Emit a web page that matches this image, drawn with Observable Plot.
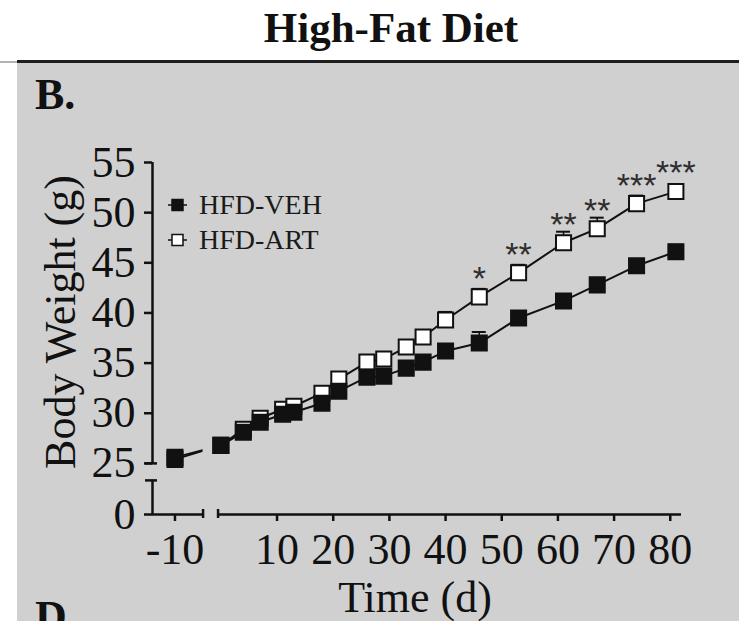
<!DOCTYPE html>
<html>
<head>
<meta charset="utf-8">
<script src="https://cdn.jsdelivr.net/npm/d3@7"></script>
<script src="https://cdn.jsdelivr.net/npm/@observablehq/plot@0.6"></script>
<style>
  html, body { margin: 0; padding: 0; width: 739px; height: 621px; overflow: hidden; background: #fff; }
  body { position: relative; font-family: "Liberation Serif", "Times New Roman", serif; color: #111; }
  .t { position: absolute; line-height: 1; white-space: nowrap; }
  #title { left: 0; width: 782px; top: 6px; text-align: center; font-weight: bold; font-size: 43px; }
  #rule-left { position: absolute; left: 0; width: 17px; top: 61px; height: 1.5px; background: #b4b4b4; }
  #rule { position: absolute; left: 17px; right: 0; top: 60px; height: 3px; background: #1e1e1e; }
  #panel { position: absolute; left: 17px; top: 63px; width: 722px; height: 558px; background: #d0d0d0; }
  #chart { position: absolute; left: 0; top: 0; }
  .panel-tag { font-weight: bold; font-size: 44px; left: 18px; }
  #ylabel { font-size: 44px; left: 44px; top: 259px; transform: translate(-50%, -50%) rotate(-90deg); }
  #xlabel { font-size: 44px; left: 398px; top: 513px; transform: translateX(-50%); }
  #legend { position: absolute; left: 145px; top: 120px; }
  .leg-text { font-size: 28px; color: #1a1a1a; left: 182px; }
</style>
</head>
<body>
<div id="title" class="t">High-Fat Diet</div>
<div id="rule-left"></div>
<div id="rule"></div>
<div id="panel">
  <div class="t panel-tag" style="top:10px">B.</div>
  <div id="chart"></div>
  <div id="ylabel" class="t">Body Weight (g)</div>
  <div id="xlabel" class="t">Time (d)</div>
  <svg id="legend" width="60" height="90"></svg>
  <div class="t leg-text" style="top:127.5px">HFD-VEH</div>
  <div class="t leg-text" style="top:162.5px">HFD-ART</div>
  <div class="t panel-tag" style="top:532px">D.</div>
</div>
<script>
// Body weight (g) of high-fat-diet mice, mean ± SEM, by day of treatment
const days    = [-10, 0, 4, 7, 11, 13, 18, 21, 26, 29, 33, 36, 40, 46, 53, 61, 67, 74, 81];
const vehMean = [25.6, 26.8, 28.1, 29.1, 29.9, 30.1, 31.0, 32.2, 33.6, 33.7, 34.5, 35.1, 36.2, 37.0, 39.5, 41.2, 42.8, 44.7, 46.1];
const vehSem  = [0.3, 0.3, 0.3, 0.3, 0.3, 0.3, 0.4, 0.4, 0.4, 0.4, 0.5, 0.5, 0.5, 1.1, 0.5, 0.5, 0.6, 0.6, 0.7];
const artMean = [25.4, 26.8, 28.4, 29.5, 30.4, 30.7, 32.0, 33.4, 35.1, 35.4, 36.6, 37.6, 39.3, 41.6, 44.0, 47.0, 48.4, 50.9, 52.1];
const artSem  = [0.3, 0.3, 0.4, 0.4, 0.4, 0.5, 0.5, 0.5, 0.6, 0.6, 0.7, 0.7, 0.8, 0.8, 0.8, 1.1, 1.1, 0.8, 0.6];
const artStars = ["", "", "", "", "", "", "", "", "", "", "", "", "", "*", "**", "**", "**", "***", "***"];
const groups = ["HFD-VEH", "HFD-ART"];
const xTicks = [-10, 10, 20, 30, 40, 50, 60, 70, 80];
const yTicks = [0, 25, 30, 35, 40, 45, 50, 55];

const ink = "#111";
const bg = "#d0d0d0";

const veh = days.map((day, i) => ({group: groups[0], day, mean: vehMean[i], sem: vehSem[i]}));
const art = days.map((day, i) => ({group: groups[1], day, mean: artMean[i], sem: artSem[i], stars: artStars[i]}));
const rows = veh.concat(art);

// Plot geometry
const W = 722, H = 558;
const mL = 135, mR = 58, mT = 99, mB = 107;

// Broken x axis: a pre-treatment stub [-14, -5] and the treatment period [-0.5, 82]
const xPre = [-14, -5], xMain = [-0.5, 82], xGap = 15;
const kx = (W - mL - mR - xGap) / ((xPre[1] - xPre[0]) + (xMain[1] - xMain[0]));
const xDomain = [xPre[0], xPre[1], xMain[0], xMain[1]];
const xRange = [mL, mL + kx * (xPre[1] - xPre[0]), mL + kx * (xPre[1] - xPre[0]) + xGap, W - mR];

// Broken y axis: a zero stub [0, 3.4] and the weight range [25, 55]
const yLow = [0, 3.4], yHigh = [25, 55], yGap = 17;
const ky = (H - mT - mB - yGap) / ((yLow[1] - yLow[0]) + (yHigh[1] - yHigh[0]));
const yDomain = [yLow[0], yLow[1], yHigh[0], yHigh[1]];
const yRange = [H - mB, H - mB - ky * (yLow[1] - yLow[0]), H - mB - ky * (yLow[1] - yLow[0]) - yGap, mT];

const axisW = 2.5;

const chart = Plot.plot({
  width: W,
  height: H,
  marginLeft: mL, marginRight: mR, marginTop: mT, marginBottom: mB,
  style: {background: "transparent", color: ink, fontFamily: '"Liberation Serif", "Times New Roman", serif', overflow: "visible"},
  x: {type: "linear", domain: xDomain, range: xRange},
  y: {type: "linear", domain: yDomain, range: yRange},
  marks: [
    // axis lines, drawn in two pieces each
    Plot.ruleX([xPre[0]], {y1: yLow[0], y2: yLow[1], stroke: ink, strokeWidth: axisW}),
    Plot.ruleX([xPre[0]], {y1: yHigh[0], y2: yHigh[1], stroke: ink, strokeWidth: axisW}),
    Plot.ruleY([0], {x1: xPre[0], x2: xPre[1], stroke: ink, strokeWidth: axisW}),
    Plot.ruleY([0], {x1: xMain[0], x2: xMain[1], stroke: ink, strokeWidth: axisW}),
    // end caps at the breaks
    Plot.ruleY([yLow[1], yHigh[0]], {x1: xPre[0], x2: xPre[0], insetLeft: -7, insetRight: -5, stroke: ink, strokeWidth: axisW}),
    Plot.ruleX([xPre[1], xMain[0]], {y1: 0, y2: 0, insetTop: -5, insetBottom: -4, stroke: ink, strokeWidth: axisW}),
    Plot.axisY(yTicks, {anchor: "left", tickSize: 8, tickPadding: 9, fontSize: 44, tickFormat: d => String(d), strokeWidth: axisW, label: null}),
    Plot.axisX(xTicks, {anchor: "bottom", tickSize: 7, tickPadding: 11, fontSize: 44, tickFormat: d => String(d), strokeWidth: axisW, label: null}),

    // connecting lines
    Plot.line(rows, {x: "day", y: "mean", z: "group", stroke: ink, strokeWidth: 2}),
    // the connecting line is hidden across the x-axis break
    Plot.rect([0], {x1: xPre[1], x2: xMain[0], y1: 20, y2: 29, fill: bg}),

    // upper SEM whiskers
    Plot.ruleX(rows, {x: "day", y1: "mean", y2: d => d.mean + d.sem, stroke: ink, strokeWidth: 1.5}),
    Plot.ruleY(rows, {x1: "day", x2: "day", y: d => d.mean + d.sem, insetLeft: -7, insetRight: -7, stroke: ink, strokeWidth: 2}),

    // markers
    Plot.dot(art, {x: "day", y: "mean", symbol: "square", r: 8.5, fill: "#fff", stroke: ink, strokeWidth: 2}),
    Plot.dot(veh, {x: "day", y: "mean", symbol: "square", r: 8.5, fill: ink, stroke: ink, strokeWidth: 2}),

    // significance vs. vehicle
    Plot.text(art.filter(d => d.stars), {x: "day", y: "mean", text: "stars", dy: -18, fontSize: 34,
      fontFamily: '"Liberation Sans", Arial, sans-serif', fill: "#2e2e2e"})
  ]
});
document.getElementById("chart").append(chart);

// legend swatches
const leg = d3.select("#legend");
groups.forEach((g, i) => {
  const cy = 22 + i * 35;
  leg.append("line").attr("x1", 6).attr("x2", 25).attr("y1", cy).attr("y2", cy)
    .attr("stroke", ink).attr("stroke-width", 1.5);
  leg.append("rect").attr("x", 10).attr("y", cy - 5.5).attr("width", 11).attr("height", 11)
    .attr("fill", i === 0 ? ink : "#fff").attr("stroke", ink).attr("stroke-width", 1.5);
});
</script>
</body>
</html>
